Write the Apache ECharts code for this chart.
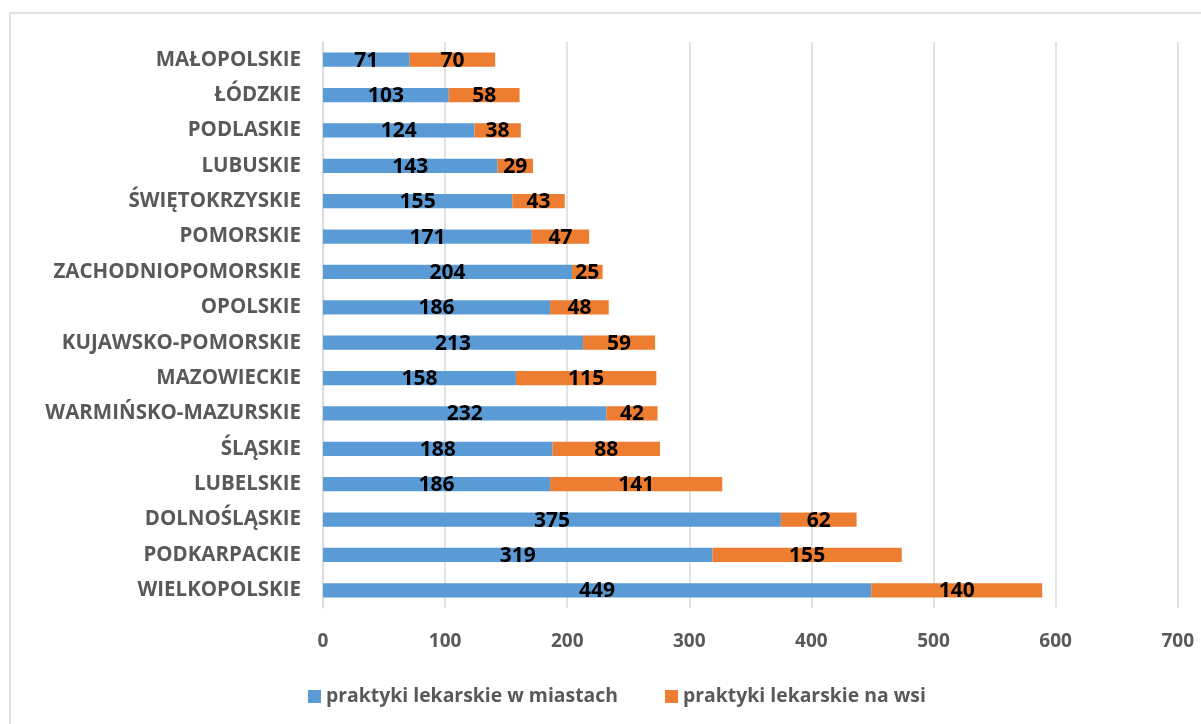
<!DOCTYPE html>
<html>
<head>
<meta charset="utf-8">
<script src="https://cdn.jsdelivr.net/npm/echarts@6/dist/echarts.min.js"></script>
<style>html,body{margin:0;padding:0;background:#fff;}#c{width:1201px;height:724px;}</style>
</head>
<body>
<div id="c"></div>
<script>
const categories = ['MAŁOPOLSKIE','ŁÓDZKIE','PODLASKIE','LUBUSKIE','ŚWIĘTOKRZYSKIE','POMORSKIE','ZACHODNIOPOMORSKIE','OPOLSKIE','KUJAWSKO-POMORSKIE','MAZOWIECKIE','WARMIŃSKO-MAZURSKIE','ŚLĄSKIE','LUBELSKIE','DOLNOŚLĄSKIE','PODKARPACKIE','WIELKOPOLSKIE'];
const cityValues = [71,103,124,143,155,171,204,186,213,158,232,188,186,375,319,449];
const villageValues = [70,58,38,29,43,47,25,48,59,115,42,88,141,62,155,140];
const seriesNames = ['praktyki lekarskie w miastach','praktyki lekarskie na wsi'];

const FONT = 'Open Sans';
const chart = echarts.init(document.getElementById('c'));
const labelStyle = {show:true, position:'inside', color:'#000', fontFamily:FONT, fontWeight:'bold', fontSize:21, offset:[0,1]};
chart.setOption({
  animation:false,
  backgroundColor:'#fff',
  graphic:[{type:'rect', shape:{x:10,y:13,width:1250,height:800}, style:{fill:'none', stroke:'#d9d9d9', lineWidth:1.5}, silent:true}],
  grid:{left:323, right:23.3, top:42, bottom:116, containLabel:false},
  legend:{left:303, top:682, itemWidth:13, itemHeight:13, itemGap:47, icon:'rect',
    textStyle:{color:'#595959', fontFamily:FONT, fontWeight:'bold', fontSize:19.4},
    data:seriesNames},
  xAxis:{type:'value', min:0, max:700, interval:100,
    axisLine:{show:false}, axisTick:{show:false},
    splitLine:{show:true, lineStyle:{color:'#d9d9d9', width:1.5}},
    axisLabel:{color:'#595959', fontFamily:FONT, fontWeight:'bold', fontSize:19, margin:24}},
  yAxis:{type:'category', inverse:true, data:categories,
    axisLine:{show:true, lineStyle:{color:'#d9d9d9', width:1.5}}, axisTick:{show:false},
    axisLabel:{color:'#595959', fontFamily:FONT, fontWeight:'bold', fontSize:20.5, margin:22}},
  series:[
    {name:seriesNames[0], type:'bar', stack:'total', data:cityValues, barCategoryGap:'60%',
     itemStyle:{color:'#5B9BD5'}, label:labelStyle},
    {name:seriesNames[1], type:'bar', stack:'total', data:villageValues, barCategoryGap:'60%',
     itemStyle:{color:'#ED7D31'}, label:labelStyle}
  ]
});
</script>
</body>
</html>
